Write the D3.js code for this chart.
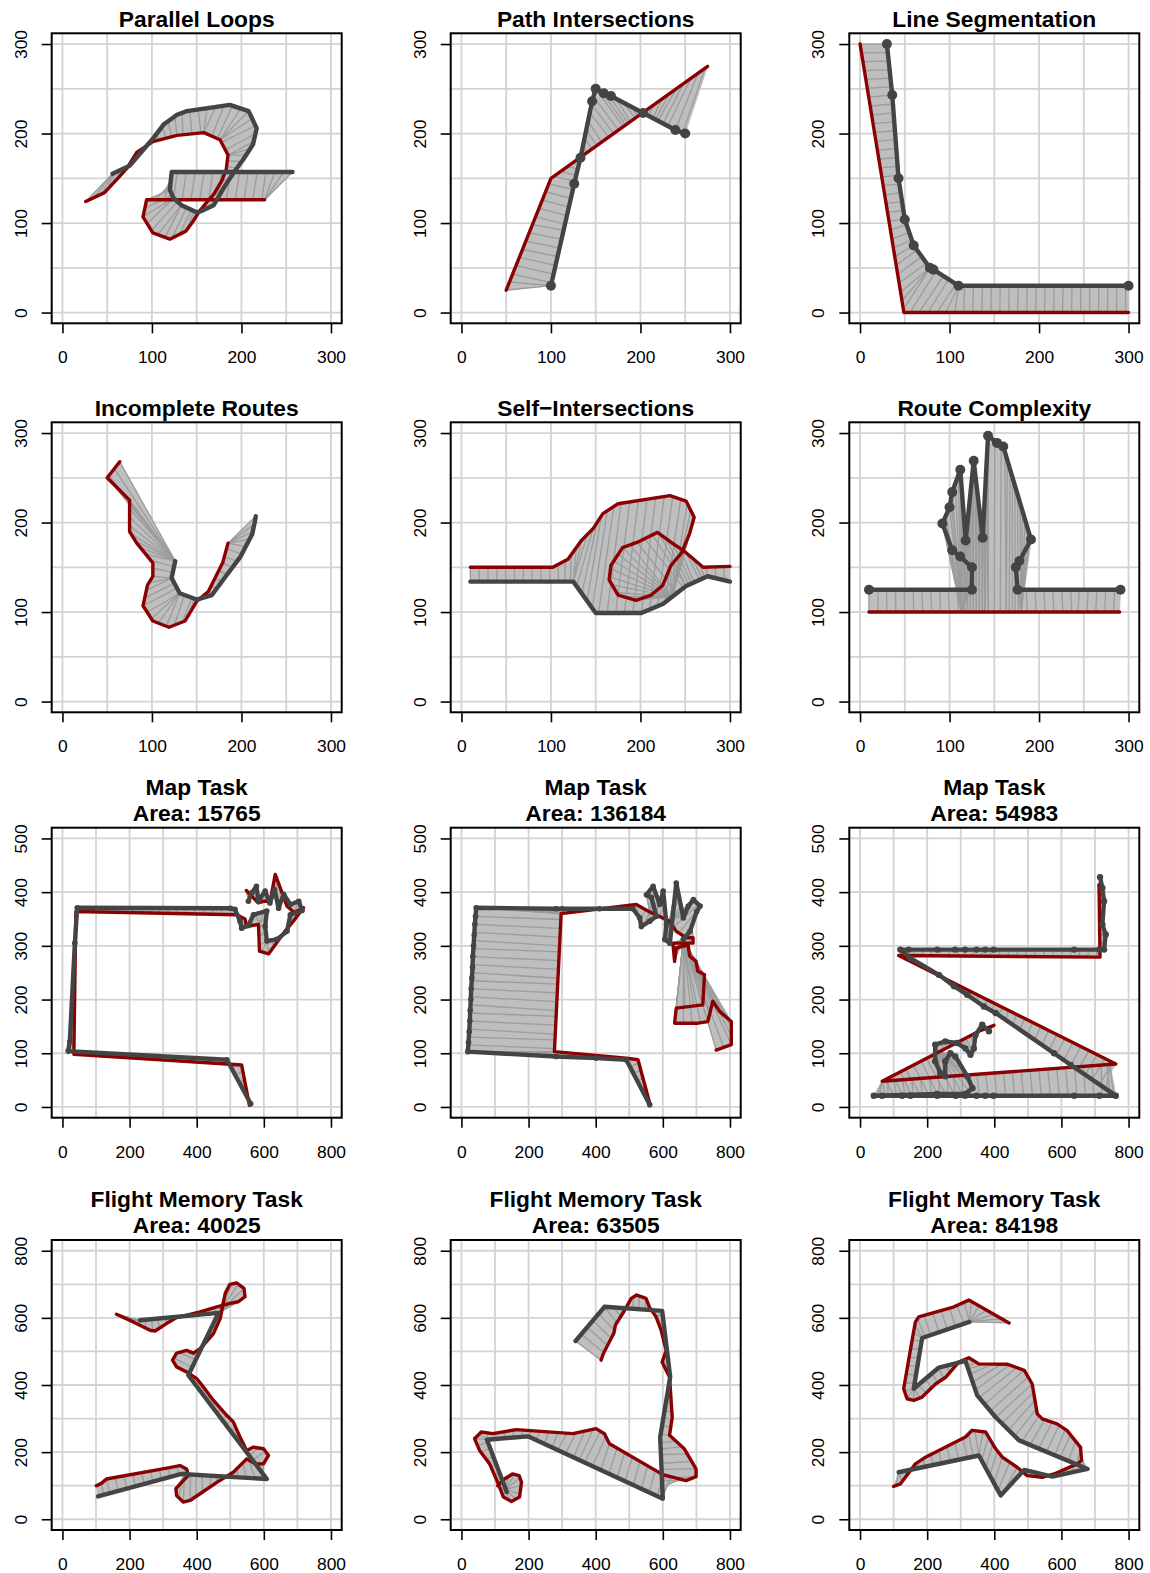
<!DOCTYPE html>
<html><head><meta charset="utf-8">
<script src="https://cdn.jsdelivr.net/npm/d3@7"></script>
<style>
body{margin:0;background:#fff}
svg{display:block}
text{font-family:"Liberation Sans",Arial,Helvetica,sans-serif}
</style>
</head><body>
<svg id="chart" width="1150" height="1573"></svg>
<script>
// ---------------- DATA ----------------
const titles = [
  ["Parallel Loops"], ["Path Intersections"], ["Line Segmentation"],
  ["Incomplete Routes"], ["Self\u2212Intersections"], ["Route Complexity"],
  ["Map Task", "Area: 15765"], ["Map Task", "Area: 136184"], ["Map Task", "Area: 54983"],
  ["Flight Memory Task", "Area: 40025"], ["Flight Memory Task", "Area: 63505"], ["Flight Memory Task", "Area: 84198"]
];

const ticks300 = [0, 100, 200, 300];
const ticks500 = [0, 100, 200, 300, 400, 500];
const ticks800 = [0, 200, 400, 600, 800];

// Panel 1: Parallel Loops
const loopsRed = [[26,124],[47,134],[60,148],[72,161],[83,179],[101,191],[128,198],[158,201],[176,193],[185,176],[183,160],[178,147],[169,132],[161,123],[153,113],[146,102],[138,91],[120,82],[101,89],[90,107],[94,126],[226,126]];
const loopsDark = [[56,155],[75,164],[87,178],[100,193],[113,210],[128,221],[139,225],[187,232],[208,225],[217,206],[213,188],[202,171],[191,156],[180,139],[169,120],[154,113],[150,112],[133,120],[124,128],[120,137],[122,157],[257,157]];

// Panel 2: Path Intersections
const crossRed = [[50,25],[100,150],[275,275]];
const crossDark = [[100,30],[126,144],[133,173],[146,236],[150,250],[159,245],[167,242],[203,223],[239,204],[250,200]];

// Panel 3: Line Segmentation
const segRed = [[0,300],[49,0],[300,0]];
const segDark = [[30,300],[36,243],[43,150],[50,104],[60,75],[78,50],[82,48],[110,30],[300,30]];

// Panel 4: Incomplete Routes
const incRed = [[64,268],[50,250],[75,225],[75,190],[83,177],[101,155],[101,140],[95,130],[90,107],[101,90],[119,83],[137,90],[150,112],[163,123],[179,155],[185,177]];
const incDark = [[126,157],[122,138],[131,121],[150,114],[167,119],[184,142],[199,162],[212,187],[215,201],[216,207]];

// Panel 5: Self-Intersections
const selfRed = [[10,150],[102,150],[119,159],[134,180],[147,193],[158,210],[175,221],[233,230],[251,224],[260,206],[255,188],[246,166],[234,152],[225,130],[212,119],[195,113],[175,119],[165,136],[167,152],[180,172],[199,179],[219,189],[234,178],[249,168],[270,150],[300,151]];
const selfDark = [[10,134],[125,134],[150,99],[201,99],[225,109],[251,129],[275,140],[300,134]];

// Panel 6: Route Complexity
const compRed = [[10,100],[290,100]];
const compDark = [[10,125],[125,125],[125,150],[112,162],[103,169],[92,199],[100,217],[103,234],[112,259],[118,180],[127,269],[137,183],[143,297],[153,289],[160,285],[191,181],[178,157],[174,150],[176,125],[291,125]];

// Panel 7: Map Task 15765
const map1Red = [[557,3],[534,78],[490,80],[34,98],[40,364],[519,358],[544,350],[549,336],[584,340],[587,290],[614,285],[663,327],[688,346],[718,371],[690,362],[669,374],[634,433],[619,383],[599,383],[583,380],[548,403]];
const map1Dark = [[561,6],[490,88],[17,104],[22,122],[37,305],[44,371],[500,370],[514,368],[529,346],[534,333],[554,338],[569,358],[609,365],[604,336],[609,309],[639,312],[669,327],[679,358],[714,366],[704,383],[679,377],[659,396],[644,370],[632,405],[618,380],[604,402],[584,383],[578,411],[564,399],[554,383]];

// Panel 8: Map Task 136184
const map2Red = [[561,7],[526,88],[491,91],[277,103],[297,360],[521,377],[561,363],[620,346],[640,327],[670,315],[690,315],[690,305],[630,305],[635,271],[640,296],[675,302],[680,281],[699,271],[704,253],[724,246],[719,190],[640,184],[635,156],[705,156],[734,159],[749,197],[769,178],[804,159],[804,116],[759,106]];
const map2Dark = [[561,4],[491,88],[401,91],[282,94],[19,103],[21,120],[23,140],[25,160],[26,180],[28,200],[29,220],[31,240],[33,260],[34,280],[36,300],[38,320],[40,340],[42,355],[44,371],[282,369],[300,369],[411,369],[511,369],[531,352],[536,336],[561,346],[581,355],[566,390],[551,395],[571,411],[591,377],[601,402],[611,340],[606,312],[621,305],[640,417],[661,352],[676,374],[691,386],[711,374],[701,364],[681,327],[661,312]];

// Panel 9: Map Task 54983
const map3Red = [[712,414],[715,279],[115,282],[762,80],[66,48],[314,128],[354,141],[399,152]];
const map3Dark = [[715,428],[722,408],[727,383],[722,340],[732,321],[727,293],[713,293],[638,293],[398,293],[373,293],[347,293],[313,293],[283,293],[230,293],[145,293],[120,293],[150,277],[235,246],[280,225],[319,209],[369,187],[404,175],[578,100],[628,78],[762,21],[713,21],[638,21],[398,21],[373,21],[347,21],[313,21],[285,21],[230,21],[150,21],[125,21],[66,21],[41,21],[230,24],[313,24],[335,35],[320,57],[284,94],[269,100],[254,85],[254,57],[239,63],[224,85],[224,116],[254,122],[289,119],[314,109],[329,97],[339,109],[344,134],[364,153],[384,141]];

// Panel 10: Flight Memory Task 40025
const fly1Red = [[161,611],[211,588],[261,563],[276,561],[310,583],[340,601],[410,618],[460,633],[499,643],[524,648],[544,663],[541,688],[519,704],[499,700],[485,673],[480,648],[470,598],[450,553],[410,508],[390,495],[370,503],[340,495],[328,474],[340,454],[370,439],[400,419],[420,394],[450,354],[490,309],[509,290],[529,245],[549,205],[569,215],[599,210],[614,190],[599,165],[574,165],[549,180],[509,140],[460,110],[410,76],[380,56],[360,51],[340,71],[338,91],[355,110],[375,130],[370,150],[350,160],[315,153],[131,120],[116,107],[101,100]];
const fly1Dark = [[231,593],[465,615],[375,429],[609,120],[355,135],[106,68]];

// Panel 11: Flight Memory Task 63505
const fly2Red = [[416,474],[424,496],[454,554],[459,579],[484,619],[506,658],[522,668],[550,658],[560,632],[580,603],[595,563],[610,503],[598,468],[620,424],[628,304],[620,250],[664,210],[699,150],[699,127],[669,115],[600,133],[441,225],[426,255],[401,270],[332,255],[163,267],[93,255],[59,260],[39,240],[54,205],[84,165],[108,110],[125,66],[149,53],[173,66],[179,110],[172,130],[152,135],[128,120],[108,100]];
const fly2Dark = [[340,531],[426,633],[598,621],[622,424],[592,245],[600,61],[198,247],[76,237],[135,81]];

// Panel 12: Flight Memory Task 84198
const fly3Red = [[444,585],[324,653],[275,631],[175,603],[165,588],[155,533],[130,389],[140,359],[160,354],[185,364],[225,403],[255,423],[294,468],[324,481],[354,463],[438,462],[489,444],[513,403],[528,314],[543,299],[587,284],[617,264],[657,214],[660,175],[647,165],[578,135],[543,125],[498,130],[468,155],[424,185],[404,210],[374,260],[334,265],[314,245],[195,185],[165,165],[120,105],[100,98]];
const fly3Dark = [[326,588],[185,540],[160,389],[235,452],[314,472],[349,369],[404,304],[474,235],[678,150],[573,127],[489,147],[419,71],[354,190],[115,140]];

// ---------------- CONFIG ----------------
const redPaths = [loopsRed, crossRed, segRed, incRed, selfRed, compRed, map1Red, map2Red, map3Red, fly1Red, fly2Red, fly3Red];
const darkPaths = [loopsDark, crossDark, segDark, incDark, selfDark, compDark, map1Dark, map2Dark, map3Dark, fly1Dark, fly2Dark, fly3Dark];
const xMaxes = [300,300,300,300,300,300,800,800,800,800,800,800];
const yMaxes = [300,300,300,300,300,300,500,500,500,800,800,800];
const xTickSets = [ticks300,ticks300,ticks300,ticks300,ticks300,ticks300,ticks800,ticks800,ticks800,ticks800,ticks800,ticks800];
const yTickSets = [ticks300,ticks300,ticks300,ticks300,ticks300,ticks300,ticks500,ticks500,ticks500,ticks800,ticks800,ticks800];
const gridSteps = [50,50,50,50,50,50,100,100,100,100,100,100];
const dotRadius = [0,5,5,0,0,5,2.8,2.8,3.2,0,0,0];

// layout
const colLeft = [51.7, 450.7, 849.3];
const rowTop = [33.3, 422.3, 827.7, 1240];
const W = 290, H = 290;
const FONT = '"Liberation Sans",Arial,Helvetica,sans-serif';

// ---------------- HELPERS ----------------
function densify(pts, step) {
  const out = [pts[0]];
  for (let i = 1; i < pts.length; i++) {
    const [x0,y0] = pts[i-1], [x1,y1] = pts[i];
    const len = Math.hypot(x1-x0, y1-y0);
    const n = Math.max(1, Math.ceil(len/step));
    for (let k = 1; k <= n; k++) out.push([x0+(x1-x0)*k/n, y0+(y1-y0)*k/n]);
  }
  return out;
}
function dtw(a, b) {
  const n = a.length, m = b.length;
  const D = new Float64Array(n*m);
  for (let i = 0; i < n; i++) for (let j = 0; j < m; j++) {
    const c = Math.hypot(a[i][0]-b[j][0], a[i][1]-b[j][1]);
    let best;
    if (i === 0 && j === 0) best = 0;
    else if (i === 0) best = D[j-1];
    else if (j === 0) best = D[(i-1)*m];
    else best = Math.min(D[(i-1)*m+j], D[i*m+j-1], D[(i-1)*m+j-1]);
    D[i*m+j] = c + best;
  }
  const pairs = [[n-1, m-1]];
  let i = n-1, j = m-1;
  while (i > 0 || j > 0) {
    if (i === 0) j--;
    else if (j === 0) i--;
    else {
      const d1 = D[(i-1)*m+j-1], d2 = D[(i-1)*m+j], d3 = D[i*m+j-1];
      if (d1 <= d2 && d1 <= d3) { i--; j--; }
      else if (d2 <= d3) i--;
      else j--;
    }
    pairs.push([i, j]);
  }
  return pairs.reverse();
}

// ---------------- DRAW ----------------
const svg = d3.select("#chart");
const lineGen = d3.line();

titles.forEach((t, k) => {
  const r = Math.floor(k/3), c = k % 3;
  const g = svg.append("g").attr("transform", `translate(${colLeft[c]},${rowTop[r]})`);
  const xp = xMaxes[k]*0.04, yp = yMaxes[k]*0.04;
  const x = d3.scaleLinear().domain([-xp, xMaxes[k]+xp]).range([0, W]);
  const y = d3.scaleLinear().domain([-yp, yMaxes[k]+yp]).range([H, 0]);

  const clipId = "clip" + k;
  g.append("clipPath").attr("id", clipId).append("rect").attr("width", W).attr("height", H);

  // grid
  const grid = g.append("g").attr("clip-path", `url(#${clipId})`);
  grid.selectAll("line.v").data(d3.range(0, xMaxes[k]+0.1, gridSteps[k])).join("line")
    .attr("x1", d => x(d)).attr("x2", d => x(d)).attr("y1", 0).attr("y2", H)
    .attr("stroke", "#d3d3d3").attr("stroke-width", 1.8);
  grid.selectAll("line.h").data(d3.range(0, yMaxes[k]+0.1, gridSteps[k])).join("line")
    .attr("y1", d => y(d)).attr("y2", d => y(d)).attr("x1", 0).attr("x2", W)
    .attr("stroke", "#d3d3d3").attr("stroke-width", 1.8);

  const plot = g.append("g").attr("clip-path", `url(#${clipId})`);
  const A = redPaths[k].map(d => [x(d[0]), y(d[1])]);
  const B = darkPaths[k].map(d => [x(d[0]), y(d[1])]);
  const a = densify(A, 3), b = densify(B, 3);
  const pairs = dtw(a, b);

  // shaded area between matched points
  const polys = [];
  for (let q = 1; q < pairs.length; q++) {
    const [i0, j0] = pairs[q-1], [i1, j1] = pairs[q];
    polys.push([a[i0], a[i1], b[j1], b[j0]]);
  }
  plot.append("g").selectAll("path").data(polys).join("path")
    .attr("d", d => "M" + d.map(p => p.join(",")).join("L") + "Z")
    .attr("fill", "#bebebe").attr("stroke", "#bebebe").attr("stroke-width", 0.8)
    .attr("stroke-linejoin", "round");
  // connectors
  const conn = pairs.filter((p, q) => q % 3 === 0);
  plot.append("g").selectAll("line").data(conn).join("line")
    .attr("x1", d => a[d[0]][0]).attr("y1", d => a[d[0]][1])
    .attr("x2", d => b[d[1]][0]).attr("y2", d => b[d[1]][1])
    .attr("stroke", "#9c9c9c").attr("stroke-width", 1.3);

  // red route
  plot.append("path").attr("d", lineGen(A)).attr("fill", "none")
    .attr("stroke", "#8b0000").attr("stroke-width", 3.4)
    .attr("stroke-linejoin", "round").attr("stroke-linecap", "round");
  // dark route
  plot.append("path").attr("d", lineGen(B)).attr("fill", "none")
    .attr("stroke", "#444444").attr("stroke-width", 4.4)
    .attr("stroke-linejoin", "round").attr("stroke-linecap", "round");
  if (dotRadius[k] > 0) {
    plot.append("g").selectAll("circle").data(B).join("circle")
      .attr("cx", d => d[0]).attr("cy", d => d[1]).attr("r", dotRadius[k])
      .attr("fill", "#444444");
  }

  // box
  g.append("rect").attr("width", W).attr("height", H).attr("fill", "none")
    .attr("stroke", "#000").attr("stroke-width", 2);

  // axes
  const gx = g.append("g").attr("transform", `translate(0,${H})`)
    .call(d3.axisBottom(x).tickValues(xTickSets[k]).tickSize(10).tickSizeOuter(0));
  gx.select(".domain").remove();
  gx.attr("font-size", 17.4).attr("font-family", FONT);
  gx.selectAll(".tick line").attr("stroke", "#000").attr("stroke-width", 1.6);
  gx.selectAll(".tick text").attr("y", 40).attr("dy", null).attr("fill", "#000");

  const gy = g.append("g")
    .call(d3.axisLeft(y).tickValues(yTickSets[k]).tickSize(10).tickSizeOuter(0));
  gy.select(".domain").remove();
  gy.attr("font-size", 17.4).attr("font-family", FONT);
  gy.selectAll(".tick line").attr("stroke", "#000").attr("stroke-width", 1.6);
  gy.selectAll(".tick text").attr("transform", "rotate(-90)")
    .attr("x", 0).attr("y", -25).attr("dy", null)
    .attr("text-anchor", "middle").attr("fill", "#000");

  // title
  const tl = g.append("text").attr("text-anchor", "middle")
    .attr("font-weight", "bold").attr("font-size", 22.8).attr("fill", "#000");
  t.forEach((s, li) => {
    tl.append("tspan").attr("x", W/2)
      .attr("y", -6.7 - (t.length - 1 - li) * 26)
      .text(s);
  });
});
</script>
</body></html>
